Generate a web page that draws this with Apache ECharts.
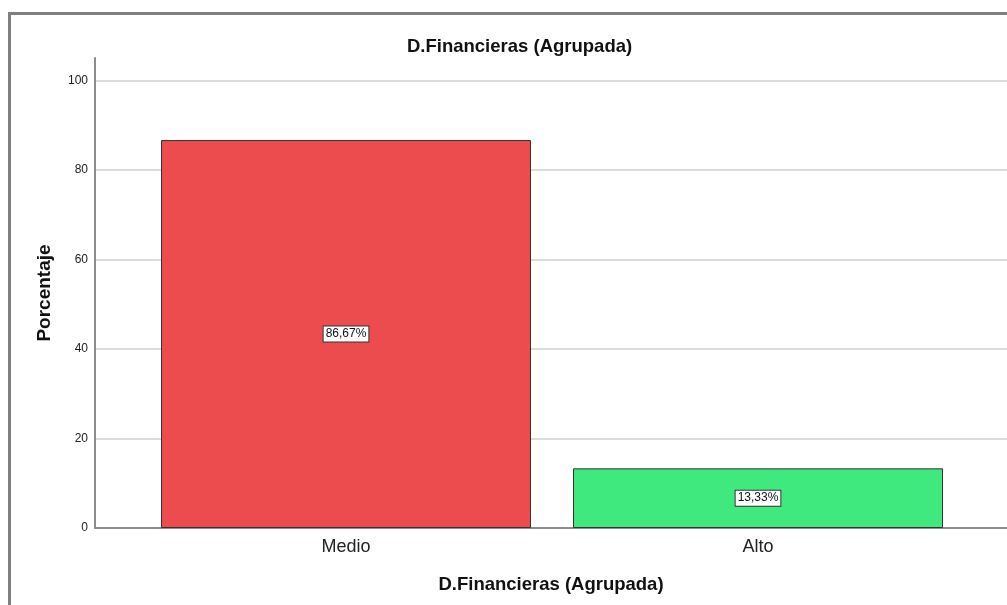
<!DOCTYPE html>
<html>
<head>
<meta charset="utf-8">
<script src="https://cdn.jsdelivr.net/npm/echarts@6/dist/echarts.min.js"></script>
<style>
html, body { margin: 0; padding: 0; background: #fff; }
#main { width: 1007px; height: 605px; }
</style>
</head>
<body>
<div id="main"></div>
<script>
var categories = ['Medio', 'Alto'];
var percentages = [86.67, 13.33];
var barColors = ['#ED4C4F', '#40E97E'];
var yTicks = [0, 20, 40, 60, 80, 100];

var myChart = echarts.init(document.getElementById('main'));
var font = 'Liberation Sans, Arial, sans-serif';

var option = {
    backgroundColor: '#fff',
    animation: false,
    title: {
        text: 'D.Financieras (Agrupada)',
        left: 402,
        top: 32,
        textStyle: { fontFamily: font, fontSize: 18.5, fontWeight: 'bold', color: '#111' }
    },
    graphic: [{
        type: 'rect',
        shape: { x: 9.5, y: 13.5, width: 1200, height: 800 },
        style: { fill: 'none', stroke: '#808080', lineWidth: 3 },
        silent: true
    }],
    grid: [
        { left: 95, right: 0, top: 58, bottom: 77 },
        { left: 140, right: 43, top: 58, bottom: 77 }
    ],
    xAxis: [
        {
            type: 'category',
            gridIndex: 0,
            data: categories,
            axisLine: { lineStyle: { color: '#8c8c8c', width: 2 } },
            axisTick: { show: false },
            axisLabel: { show: false },
            name: 'D.Financieras (Agrupada)',
            nameLocation: 'middle',
            nameGap: 47,
            nameTextStyle: { fontFamily: font, fontSize: 18.5, fontWeight: 'bold', color: '#111' }
        },
        {
            type: 'category',
            gridIndex: 1,
            data: categories,
            axisLine: { show: false },
            axisTick: { show: false },
            axisLabel: { fontFamily: font, fontSize: 18, color: '#222', margin: 10 }
        }
    ],
    yAxis: [
        {
            type: 'value',
            gridIndex: 0,
            min: 0,
            max: 105,
            interval: 20,
            axisLine: { show: true, lineStyle: { color: '#8c8c8c', width: 2 } },
            axisTick: { show: false },
            axisLabel: {
                fontFamily: font, fontSize: 12, color: '#222', margin: 7,
                showMaxLabel: false,
                formatter: function (v) { return yTicks.indexOf(v) >= 0 ? v : ''; }
            },
            splitLine: { show: true, showMaxLine: false, lineStyle: { color: '#dcdcdc', width: 2 } },
            name: 'Porcentaje',
            nameLocation: 'middle',
            nameGap: 41,
            nameTextStyle: { fontFamily: font, fontSize: 19, fontWeight: 'bold', color: '#111' }
        },
        {
            type: 'value',
            gridIndex: 1,
            min: 0,
            max: 105,
            show: false
        }
    ],
    series: [{
        type: 'bar',
        xAxisIndex: 1,
        yAxisIndex: 1,
        barWidth: 370,
        data: percentages.map(function (v, i) {
            return { value: v, itemStyle: { color: barColors[i] } };
        }),
        itemStyle: { borderColor: '#333', borderWidth: 1 },
        label: {
            show: true,
            position: 'inside',
            fontFamily: font,
            fontSize: 12,
            color: '#111',
            backgroundColor: '#fff',
            borderColor: '#333',
            borderWidth: 1,
            padding: [2, 2, 1, 2],
            formatter: function (p) { return p.value.toFixed(2).replace('.', ',') + '%'; }
        }
    }]
};

myChart.setOption(option);
</script>
</body>
</html>
